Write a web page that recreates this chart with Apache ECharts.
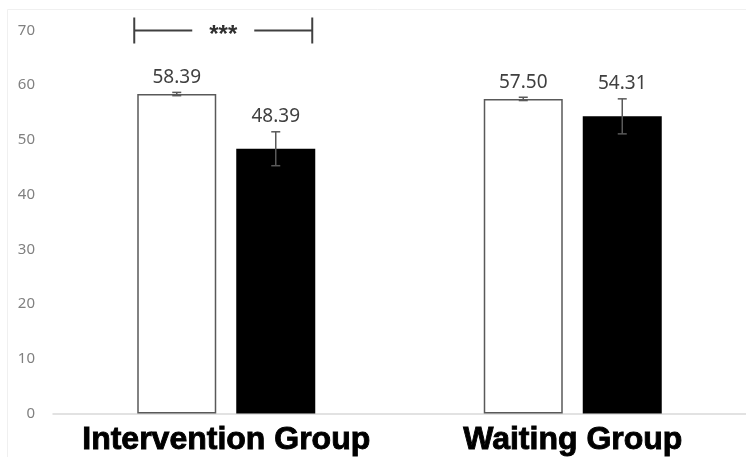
<!DOCTYPE html>
<html>
<head>
<meta charset="utf-8">
<title>Intervention vs Waiting Group</title>
<script src="https://cdn.jsdelivr.net/npm/echarts@6/dist/echarts.min.js"></script>
<style>
  html, body { margin: 0; padding: 0; background: #fff; }
  #chart { width: 746px; height: 457px; }
</style>
</head>
<body>
<div id="chart"></div>
<script>
// Group means (white = first measurement, black = second measurement)
const categories = ['Intervention Group', 'Waiting Group'];
const whiteValues = [58.39, 57.50];
const blackValues = [48.39, 54.31];
const whiteErrors = [0.3, 0.3];
const blackErrors = [3.1, 3.2];
const yTicks = [0, 10, 20, 30, 40, 50, 60, 70];
// Significance bracket over the intervention group
const bracketCategory = 0;
const bracketLevel = 70;
const bracketText = '***';

const BAR_WIDTH = 79;
const BAR_GAP_PX = 20;
const OFFSET = (BAR_WIDTH + BAR_GAP_PX) / 2;
const ERR_COLOR = '#595959';

function errorSeries(values, errors, side) {
  return {
    type: 'custom',
    z: 5,
    data: values.map((v, i) => [i, v, errors[i]]),
    renderItem: function (params, api) {
      const i = api.value(0), v = api.value(1), e = api.value(2);
      const top = api.coord([i, v + e]);
      const bot = api.coord([i, v - e]);
      const x = top[0] + side * OFFSET;
      const cap = 4.5;
      return {
        type: 'group',
        children: [
          { type: 'line', shape: { x1: x, y1: top[1], x2: x, y2: bot[1] }, style: { stroke: ERR_COLOR, lineWidth: 1.5 } },
          { type: 'line', shape: { x1: x - cap, y1: top[1], x2: x + cap, y2: top[1] }, style: { stroke: ERR_COLOR, lineWidth: 1.5 } },
          { type: 'line', shape: { x1: x - cap, y1: bot[1], x2: x + cap, y2: bot[1] }, style: { stroke: ERR_COLOR, lineWidth: 1.5 } },
          {
            type: 'text',
            style: {
              x: x, y: top[1] - 15,
              text: v.toFixed(2),
              fill: '#404040',
              font: '19px "Noto Sans", sans-serif',
              align: 'center', verticalAlign: 'middle'
            }
          }
        ]
      };
    }
  };
}

const chart = echarts.init(document.getElementById('chart'), null, { renderer: 'canvas' });

chart.setOption({
  backgroundColor: '#ffffff',
  animation: false,
  grid: { left: 53, right: -5, top: 30.5, bottom: 40, containLabel: false },
  graphic: [{
    type: 'rect',
    shape: { x: 7.5, y: 9.5, width: 760, height: 460 },
    style: { fill: 'none', stroke: '#f0f0f0', lineWidth: 1 },
    silent: true
  }],
  xAxis: {
    type: 'category',
    data: categories,
    axisLine: { show: true, lineStyle: { color: '#d9d9d9', width: 1.5 } },
    axisTick: { show: false },
    axisLabel: {
      interval: 0,
      margin: 11,
      color: '#000',
      fontSize: 32,
      fontWeight: 'bold',
      fontFamily: '"Liberation Sans", Arial, sans-serif',
      textBorderColor: '#000',
      textBorderWidth: 0.9
    }
  },
  yAxis: {
    type: 'value',
    min: yTicks[0],
    max: yTicks[yTicks.length - 1],
    interval: yTicks[1] - yTicks[0],
    axisLine: { show: false },
    axisTick: { show: false },
    splitLine: { show: false },
    axisLabel: {
      margin: 18,
      color: '#808080',
      fontSize: 15,
      fontFamily: '"Noto Sans", sans-serif'
    }
  },
  series: [
    {
      type: 'bar',
      data: whiteValues,
      barWidth: BAR_WIDTH,
      barGap: (BAR_GAP_PX / BAR_WIDTH * 100) + '%',
      itemStyle: { color: '#ffffff', borderColor: '#595959', borderWidth: 1.5 }
    },
    {
      type: 'bar',
      data: blackValues,
      barWidth: BAR_WIDTH,
      itemStyle: { color: '#000000' }
    },
    errorSeries(whiteValues, whiteErrors, -1),
    errorSeries(blackValues, blackErrors, 1),
    {
      type: 'custom',
      z: 6,
      data: [[bracketCategory, bracketLevel]],
      renderItem: function (params, api) {
        const p = api.coord([api.value(0), api.value(1)]);
        const cx = p[0] - 3, y = p[1];
        const half = 89;
        const gapHalf = 31;
        const tick = 13;
        const st = { stroke: '#404040', lineWidth: 2 };
        return {
          type: 'group',
          children: [
            { type: 'line', shape: { x1: cx - half, y1: y, x2: cx - gapHalf, y2: y }, style: st },
            { type: 'line', shape: { x1: cx + gapHalf, y1: y, x2: cx + half, y2: y }, style: st },
            { type: 'line', shape: { x1: cx - half, y1: y - tick, x2: cx - half, y2: y + tick }, style: st },
            { type: 'line', shape: { x1: cx + half, y1: y - tick, x2: cx + half, y2: y + tick }, style: st },
            {
              type: 'text',
              style: {
                x: cx, y: y + 5,
                text: bracketText,
                fill: '#303030',
                font: 'bold 24px "Liberation Sans", sans-serif',
                align: 'center', verticalAlign: 'middle'
              }
            }
          ]
        };
      }
    }
  ]
});
</script>
</body>
</html>
